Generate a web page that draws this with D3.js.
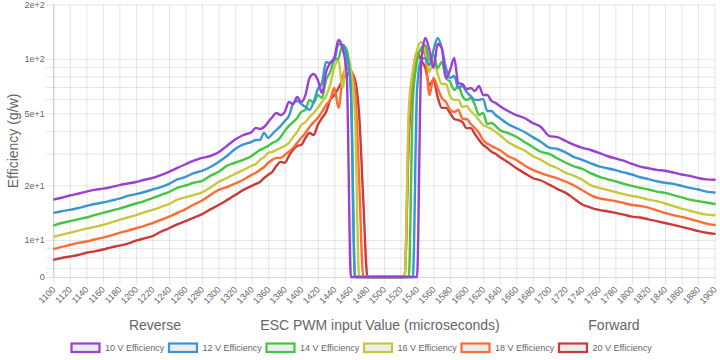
<!DOCTYPE html>
<html><head><meta charset="utf-8">
<script src="https://cdn.jsdelivr.net/npm/d3@7"></script>
<style>
html,body{margin:0;padding:0;background:#fff;}
svg{display:block;font-family:"Liberation Sans",Arial,Helvetica,sans-serif;}
</style>
</head><body>
<svg id="chart" width="720" height="360"></svg>
<script>
// ---------------- DATA ----------------
const pwm = [1100,1110,1120,1130,1140,1150,1160,1170,1180,1190,1200,1210,1220,1230,1240,1250,1260,1270,1280,1290,1300,1310,1320,1330,1340,
1345,1350,1355,1360,1365,1370,1375,1380,1385,1390,1395,1400,1405,1410,1415,1420,1425,1430,1435,1440,1445,1450,1455,1460,1465,1470,1475,1480,1485,1490,1495,1500,1505,1510,1515,1520,1525,1530,1535,1540,1545,1550,1555,1560,1565,1570,1575,1580,1585,1590,1595,1600,1605,1610,1615,1620,1625,1630,1635,1640,
1650,1660,1670,1680,1690,1700,1710,1720,1730,1740,1750,1760,1770,1780,1790,1800,1810,1820,1830,1840,1850,1860,1870,1880,1890,1900];

const xTickLabels = [1100,1120,1140,1160,1180,1200,1220,1240,1260,1280,1300,1320,1340,1360,1380,1400,1420,1440,1460,1480,1500,1520,1540,1560,1580,1600,1620,1640,1660,1680,1700,1720,1740,1760,1780,1800,1820,1840,1860,1880,1900];
const yGridValues = [7,8,9,10,20,30,40,50,60,70,80,90,100,200];
const yLabelValues = [10,20,50,100,200];
const yLabelTexts = ["1e+1","2e+1","5e+1","1e+2","2e+2"];
const yZeroLabel = "0";

const seriesNames = ["10 V Efficiency","12 V Efficiency","14 V Efficiency","16 V Efficiency","18 V Efficiency","20 V Efficiency"];
const seriesColors = ["#9b40d2","#3a95d5","#44c644","#c8c83e","#ff6c33","#cc3a3a"];

const eff10V = [16.7,17.1,17.6,18.0,18.5,18.9,19.2,19.6,20.1,20.5,20.9,21.5,22.0,22.8,23.8,25.0,26.2,27.4,28.4,29.1,30.5,33.1,35.9,38.0,39.5,
41.6,41.0,42.1,44.8,47.8,50.3,49.0,51.0,57.9,56.4,61.6,57.9,63.2,78.6,82.6,76.6,64.8,84.7,95.0,102.0,127.3,114.7,81.6,
0,0,0,0,0,0,0,0,0,0,0,0,0,0,0,0,0,
92.7,130.6,112.1,89.2,121.0,114.7,78.6,86.9,101.2,73.5,72.7,68.2,69.1,66.5,70.9,63.2,63.2,58.6,57.2,55.0,
51.6,49.0,47.2,44.3,42.1,37.5,37.0,35.2,33.5,32.3,31.4,30.3,29.1,28.2,27.4,26.3,25.4,24.9,24.4,24.1,23.6,23.0,22.6,22.0,21.6,21.5];

const eff12V = [14.1,14.4,14.65,15.0,15.4,15.8,16.1,16.5,16.9,17.5,17.9,18.4,19.0,19.6,20.4,21.6,22.3,23.4,24.1,25.3,27.0,29.1,31.8,33.7,34.8,
35.7,35.7,39.0,36.6,38.5,40.5,42.7,45.4,48.4,56.4,58.6,56.4,54.3,52.3,57.9,68.2,73.7,96.2,95.0,98.7,121.0,119.5,104.0,67.4,
0,0,0,0,0,0,0,0,0,0,0,0,0,0,0,
67.4,98.7,101.2,92.7,112.1,130.6,114.7,89.2,78.6,80.6,69.1,70.9,65.6,62.4,59.4,59.4,60.2,51.6,51.6,49.0,47.2,
43.7,41.5,39.5,37.0,34.8,32.4,31.8,30.4,28.7,27.7,26.5,25.5,24.9,24.3,23.6,23.0,22.2,21.7,21.1,20.7,20.4,19.9,19.4,19.0,18.5,18.3];

const eff14V = [12.0,12.4,12.7,13.0,13.3,13.7,14.1,14.5,14.9,15.4,15.9,16.4,17.0,17.7,18.4,19.4,20.0,20.7,21.2,22.6,23.8,25.7,26.7,27.7,29.1,
30.3,31.4,32.2,33.1,34.4,35.2,37.0,40.0,42.7,44.8,47.2,51.0,52.3,59.4,57.2,63.2,60.9,76.6,84.7,98.7,101.2,119.5,112.1,67.4,
0,0,0,0,0,0,0,0,0,0,0,0,0,0,
59.4,96.2,114.7,119.5,98.7,105.2,89.2,96.2,78.6,74.7,67.4,70.9,62.4,59.4,60.9,55.7,49.0,50.3,43.7,44.3,42.7,40.5,
39.0,37.2,34.8,32.6,30.7,29.9,28.2,26.7,25.5,24.7,23.4,22.4,21.7,21.1,20.4,19.9,19.4,19.0,18.5,18.2,17.7,17.2,16.7,16.4,16.1,15.8];

const eff16V = [10.4,10.66,10.95,11.25,11.55,11.8,12.1,12.5,12.9,13.3,13.7,14.2,14.65,15.2,15.8,16.7,17.2,17.7,18.3,19.5,20.9,22.0,23.2,24.4,25.7,
26.3,27.7,28.7,30.3,30.7,31.4,32.2,33.1,34.4,37.0,39.5,43.2,44.8,47.8,50.3,53.7,57.9,62.4,72.0,90.0,98.7,69.1,105.2,86.9,49.0,
0,0,0,0,0,0,0,0,0,0,0,0,
52.3,86.9,112.1,124.1,112.1,84.7,98.7,82.6,72.7,72.7,62.4,59.4,59.4,54.3,55.0,51.6,49.0,46.0,43.2,42.1,41.0,39.5,38.0,
34.8,32.8,31.2,29.1,27.7,26.0,24.9,23.5,22.6,21.5,20.1,19.4,18.9,18.4,17.9,17.5,17.2,16.7,16.4,15.9,15.4,14.9,14.5,14.1,13.8,13.7];

const eff18V = [8.9,9.15,9.38,9.63,9.8,10.06,10.3,10.6,10.95,11.25,11.6,11.95,12.4,12.9,13.45,14.1,14.8,15.7,16.5,17.7,18.9,19.6,20.5,21.5,22.9,
23.5,24.4,25.3,26.7,27.7,28.4,28.4,29.5,30.7,32.2,34.4,36.6,39.0,42.1,44.8,47.2,51.0,55.7,59.4,69.1,53.7,78.6,89.2,86.9,67.4,21.5,
0,0,0,0,0,0,0,0,0,0,0,
40.5,76.6,101.2,112.1,105.2,63.2,78.6,69.1,60.9,57.9,52.3,51.0,52.3,46.6,46.6,43.7,41.5,39.0,35.7,34.1,33.1,32.2,31.4,
29.1,27.7,25.8,24.4,23.4,22.6,21.9,21.0,20.0,18.8,17.7,17.0,16.7,16.4,16.0,15.6,15.4,15.1,14.55,14.1,13.7,13.4,13.05,12.7,12.3,12.1];

const eff20V = [7.75,7.95,8.1,8.26,8.5,8.65,8.85,9.1,9.3,9.55,9.9,10.2,10.5,11.1,11.6,12.2,12.7,13.3,13.9,14.75,15.6,16.6,17.7,18.9,19.9,
20.4,20.9,22.0,22.9,23.8,25.7,27.0,26.7,29.1,31.4,33.1,33.5,36.6,39.0,38.0,43.2,47.2,51.0,59.4,63.2,69.1,76.6,81.6,84.7,76.6,49.0,16.6,
0,0,0,0,0,0,0,0,0,0,
35.7,81.6,109.3,98.7,89.2,71.8,76.6,61.6,53.7,53.7,50.3,46.6,46.0,44.8,41.5,41.5,38.5,35.7,33.5,32.2,30.7,29.9,28.7,
26.9,25.0,23.4,22.0,21.3,20.2,19.1,18.2,16.9,15.7,15.1,14.65,14.4,14.1,13.8,13.45,13.3,13.0,12.7,12.4,12.1,11.8,11.5,11.2,10.95,10.8];

const seriesValues = [eff10V, eff12V, eff14V, eff16V, eff18V, eff20V];

// ---------------- LAYOUT ----------------
const L = 53.3, R = 714.6, T = 4.5, B = 277;
const gridColor = "rgba(0,0,0,0.1)";
const textColor = "#666";

const svg = d3.select("#chart");
svg.append("rect").attr("width",720).attr("height",360).attr("fill","#fff");

const x = d3.scaleLinear().domain([1100,1900]).range([L,R]);
const y = d3.scaleLog().domain([6.24,200]).range([B,T]);
const yv = v => v > 0 ? y(v) : B;

// X axis with grid lines
const gx = svg.append("g").attr("transform",`translate(0,${B})`)
  .call(d3.axisBottom(x).tickValues(xTickLabels).tickSizeInner(-(B-T)).tickSizeOuter(0).tickFormat(d => String(d)));
gx.select(".domain").attr("stroke", "rgba(0,0,0,0.15)");
gx.selectAll(".tick line").attr("stroke", gridColor).attr("y1", 7.5);
gx.selectAll(".tick text")
  .attr("x",0).attr("y",0).attr("dy","0.35em")
  .attr("transform","translate(0,11) rotate(-45)")
  .style("text-anchor","end").attr("fill",textColor).style("font-size","9px")
  .style("font-family","'Liberation Sans',Arial,sans-serif");

// Y axis with grid lines
const gy = svg.append("g").attr("transform",`translate(${L},0)`)
  .call(d3.axisLeft(y).tickValues(yGridValues).tickSizeInner(-(R-L)).tickSizeOuter(0)
    .tickFormat(d => { const i = yLabelValues.indexOf(d); return i >= 0 ? yLabelTexts[i] : ""; }));
gy.select(".domain").attr("stroke","rgba(0,0,0,0.15)");
gy.selectAll(".tick line").attr("stroke", gridColor).attr("x1", -7.5);
gy.selectAll(".tick text").attr("x",-8.5).attr("fill",textColor).style("font-size","9px")
  .style("font-family","'Liberation Sans',Arial,sans-serif");
// zero tick (log scale cannot hold 0)
svg.append("line").attr("x1",L-7.5).attr("x2",L).attr("y1",B+0.5).attr("y2",B+0.5).attr("stroke",gridColor);
svg.append("text").attr("x",L-8.5).attr("y",B).attr("dy","0.32em").attr("text-anchor","end")
  .attr("fill",textColor).style("font-size","9px").text(yZeroLabel);

// clip
svg.append("clipPath").attr("id","plotclip").append("rect")
  .attr("x",L).attr("y",T-3).attr("width",R-L+3).attr("height",B-T+6);

// lines (first dataset drawn last, on top)
const line = d3.line()
  .x((d,i) => x(pwm[i]))
  .y(d => yv(d))
  .curve(d3.curveMonotoneX);
const gl = svg.append("g").attr("clip-path","url(#plotclip)");
for (let s = seriesValues.length - 1; s >= 0; s--) {
  gl.append("path").datum(seriesValues[s])
    .attr("d", line).attr("fill","none")
    .attr("stroke", seriesColors[s]).attr("stroke-width",2.4)
    .attr("stroke-linejoin","round").attr("stroke-linecap","round");
}

// axis titles
svg.append("text").attr("transform","translate(18,141) rotate(-90)")
  .attr("text-anchor","middle").attr("fill",textColor).style("font-size","14px")
  .text("Efficiency (g/w)");
const xt = svg.append("g").attr("fill",textColor).style("font-size","14px").attr("text-anchor","middle");
xt.append("text").attr("x",155).attr("y",329.5).text("Reverse");
xt.append("text").attr("x",380).attr("y",329.5).text("ESC PWM input Value (microseconds)");
xt.append("text").attr("x",614).attr("y",329.5).text("Forward");

// legend
const lg = svg.append("g");
seriesNames.forEach((name,i) => {
  const bx = 70.5 + i*97.5;
  lg.append("rect").attr("x",bx+1).attr("y",343.5).attr("width",28).attr("height",8.5)
    .attr("fill","rgba(0,0,0,0.07)").attr("stroke",seriesColors[i]).attr("stroke-width",2.2);
  lg.append("text").attr("x",bx+34.5).attr("y",348).attr("dy","0.35em")
    .attr("fill",textColor).style("font-size","9px").text(name);
});
</script>
</body></html>
